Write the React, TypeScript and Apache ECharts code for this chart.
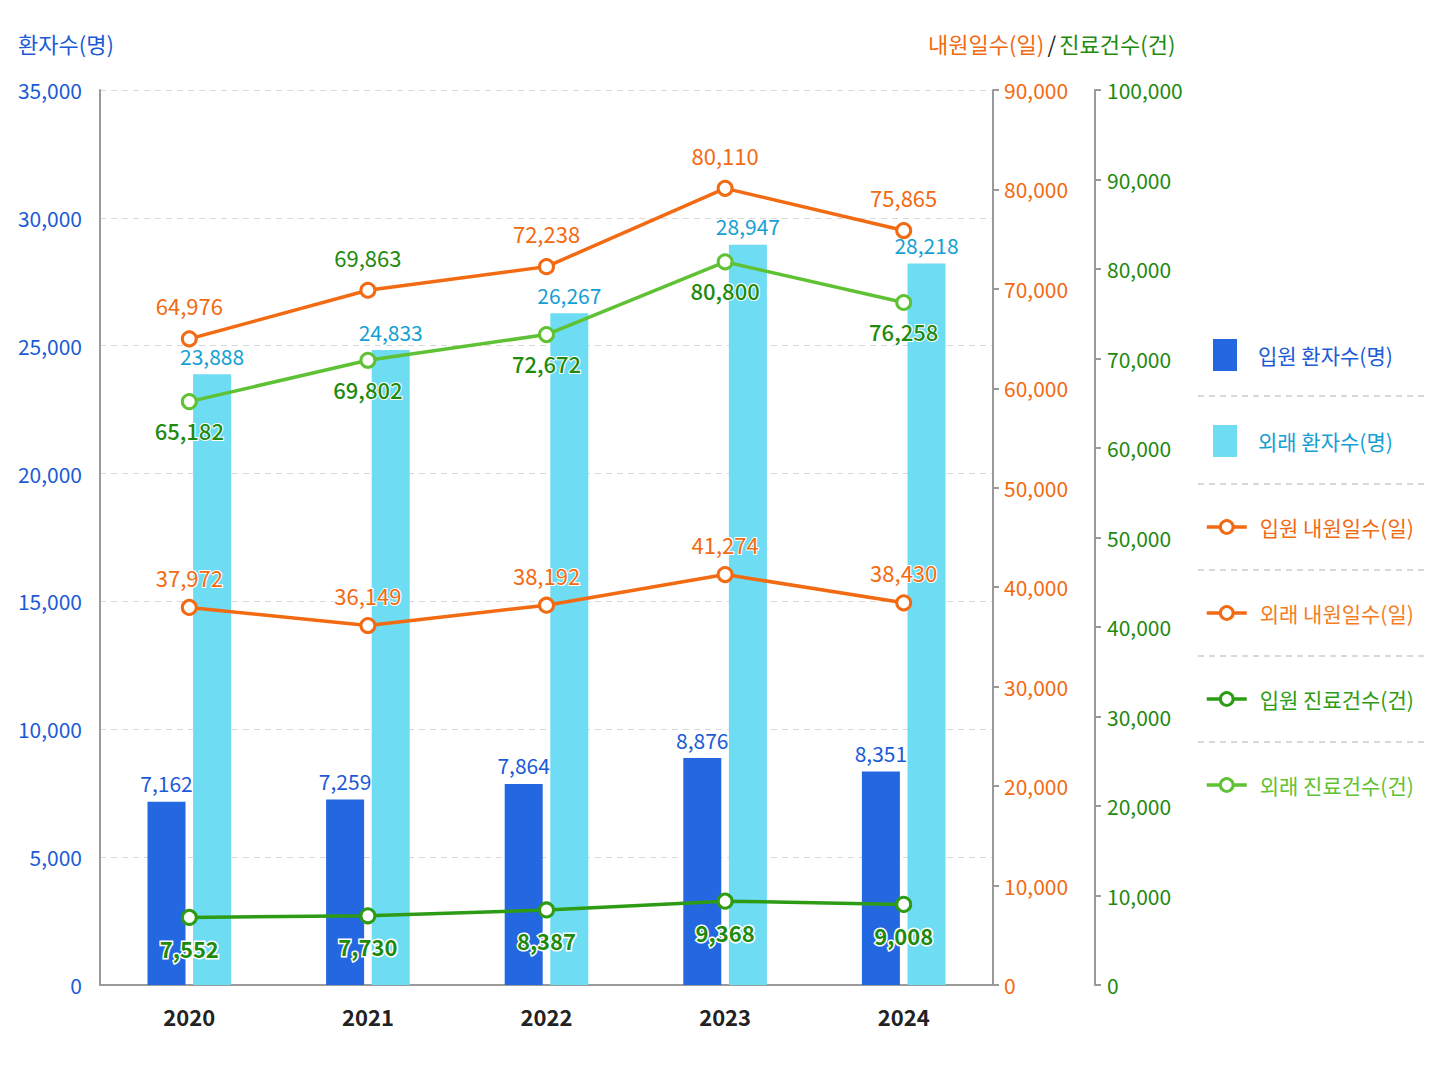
import React, { useEffect, useRef } from 'react';
import * as echarts from 'echarts';

const years = ['2020', '2021', '2022', '2023', '2024'];
const inpatientPatients = [7162, 7259, 7864, 8876, 8351];
const outpatientPatients = [23888, 24833, 26267, 28947, 28218];
const inpatientDays = [37972, 36149, 38192, 41274, 38430];
const outpatientDays = [64976, 69863, 72238, 80110, 75865];
const inpatientCases = [7552, 7730, 8387, 9368, 9008];
const outpatientCases = [65182, 69802, 72672, 80800, 76258];

const patientAxis = { min: 0, max: 35000, interval: 5000 };
const daysAxis = { min: 0, max: 90000, interval: 10000 };
const casesAxis = { min: 0, max: 100000, interval: 10000 };

const FONT = '"Noto Sans CJK KR", "Noto Sans", sans-serif';
const BLUE = '#1c5bd6';
const DARK_BAR = '#2368e0';
const LIGHT_BAR = '#6edcf2';
const CYAN_TEXT = '#159fd2';
const ORANGE = '#f26a12';
const ORANGE2 = '#f57d24';
const GREEN = '#2d9c14';
const GREEN_LIGHT = '#5fc234';
const GREEN_TEXT = '#1e8a0e';
const AXIS_GRAY = '#9a9a9a';

const fmt = (v: number) => Number(v).toLocaleString('en-US');

// label colour overrides for the 외래 내원일수 series (second point is drawn green in the reference)
const outpatientDaysLabelColors = [ORANGE, GREEN_TEXT, ORANGE, ORANGE, ORANGE];

function buildOption() {
  const names = {
    ip: '입원 환자수(명)',
    op: '외래 환자수(명)',
    id: '입원 내원일수(일)',
    od: '외래 내원일수(일)',
    ic: '입원 진료건수(건)',
    oc: '외래 진료건수(건)',
  };
  const lineSeries = (
    name: string,
    data: any[],
    yAxisIndex: number,
    color: string,
    label: any
  ) => ({
    name,
    type: 'line',
    yAxisIndex,
    data,
    z: 5,
    symbol: 'circle',
    symbolSize: 14,
    lineStyle: { color, width: 3.5 },
    itemStyle: { color: '#ffffff', borderColor: color, borderWidth: 3 },
    label: {
      show: true,
      fontFamily: FONT,
      fontSize: 22,
      formatter: (p: any) => fmt(p.value),
      textBorderColor: '#ffffff',
      textBorderWidth: 2,
      ...label,
    },
  });

  const sepYs = [396, 484, 570, 656, 742];

  return {
    animation: false,
    backgroundColor: '#ffffff',
    textStyle: { fontFamily: FONT },
    grid: { left: 100, right: 455, top: 90, bottom: 101, containLabel: false },
    legend: [
      {
        orient: 'vertical',
        left: 1213,
        top: 339,
        padding: 0,
        itemWidth: 24,
        itemHeight: 32,
        itemGap: 54,
        selectedMode: false,
        textStyle: { fontFamily: FONT, fontSize: 21, lineHeight: 32, padding: [0, 0, 0, 16] },
        data: [
          { name: names.ip, icon: 'rect', textStyle: { color: BLUE } },
          { name: names.op, icon: 'rect', textStyle: { color: CYAN_TEXT } },
        ],
      },
      {
        orient: 'vertical',
        left: 1205,
        top: 511,
        padding: 0,
        itemWidth: 40,
        itemHeight: 16,
        itemGap: 54,
        selectedMode: false,
        lineStyle: { width: 3.5 },
        itemStyle: { borderWidth: 3 },
        textStyle: { fontFamily: FONT, fontSize: 21, lineHeight: 32, padding: [0, 0, 0, 8] },
        data: [
          { name: names.id, textStyle: { color: ORANGE } },
          { name: names.od, textStyle: { color: ORANGE2 } },
          { name: names.ic, textStyle: { color: GREEN } },
          { name: names.oc, textStyle: { color: GREEN_LIGHT } },
        ],
      },
    ],
    graphic: [
      {
        type: 'text',
        left: 18,
        top: 32,
        style: { text: '환자수(명)', fill: BLUE, font: `22px ${FONT}` },
      },
      {
        type: 'text',
        left: 928,
        top: 32,
        style: {
          text: '{o|내원일수(일)} {s|/} {g|진료건수(건)}',
          rich: {
            o: { fill: ORANGE, fontSize: 22, fontFamily: FONT },
            s: { fill: '#222222', fontSize: 22, fontFamily: FONT },
            g: { fill: GREEN_TEXT, fontSize: 22, fontFamily: FONT },
          },
        },
      },
      ...sepYs.map((y) => ({
        type: 'line',
        shape: { x1: 1198, y1: y, x2: 1425, y2: y },
        style: { stroke: '#cccccc', lineWidth: 1.5, lineDash: [6, 5] },
      })),
    ],
    xAxis: {
      type: 'category',
      data: years,
      axisLine: { show: true, lineStyle: { color: AXIS_GRAY, width: 2 } },
      axisTick: { show: false },
      axisLabel: {
        color: '#222222',
        fontFamily: FONT,
        fontSize: 22,
        fontWeight: 'bold',
        margin: 20,
      },
    },
    yAxis: [
      {
        type: 'value',
        position: 'left',
        ...patientAxis,
        axisLine: { show: true, lineStyle: { color: AXIS_GRAY, width: 2 } },
        axisTick: { show: false },
        axisLabel: { color: BLUE, fontFamily: FONT, fontSize: 21, margin: 18, formatter: fmt },
        splitLine: { show: true, lineStyle: { color: '#d8d8d8', type: [6, 5], width: 1.2 } },
      },
      {
        type: 'value',
        position: 'right',
        offset: 0,
        ...daysAxis,
        axisLine: { show: true, lineStyle: { color: AXIS_GRAY, width: 2 } },
        axisTick: { show: true, length: 6, lineStyle: { color: AXIS_GRAY, width: 2 } },
        axisLabel: { color: ORANGE, fontFamily: FONT, fontSize: 21, margin: 11, formatter: fmt },
        splitLine: { show: false },
      },
      {
        type: 'value',
        position: 'right',
        offset: 102,
        ...casesAxis,
        axisLine: { show: true, lineStyle: { color: AXIS_GRAY, width: 2 } },
        axisTick: { show: true, length: 6, lineStyle: { color: AXIS_GRAY, width: 2 } },
        axisLabel: { color: GREEN_TEXT, fontFamily: FONT, fontSize: 21, margin: 12, formatter: fmt },
        splitLine: { show: false },
      },
    ],
    series: [
      {
        name: names.ip,
        type: 'bar',
        yAxisIndex: 0,
        data: inpatientPatients,
        barWidth: 38,
        barGap: '20%',
        itemStyle: { color: DARK_BAR },
        label: {
          show: true,
          position: 'top',
          distance: 8,
          color: BLUE,
          fontFamily: FONT,
          fontSize: 21,
          formatter: (p: any) => fmt(p.value),
        },
      },
      {
        name: names.op,
        type: 'bar',
        yAxisIndex: 0,
        data: outpatientPatients,
        barWidth: 38,
        barGap: '20%',
        itemStyle: { color: LIGHT_BAR },
        label: {
          show: true,
          position: 'top',
          distance: 8,
          color: CYAN_TEXT,
          fontFamily: FONT,
          fontSize: 21,
          formatter: (p: any) => fmt(p.value),
        },
      },
      lineSeries(names.id, inpatientDays, 1, ORANGE, {
        position: 'top',
        distance: 11,
        color: ORANGE,
      }),
      lineSeries(
        names.od,
        outpatientDays.map((v, i) => ({
          value: v,
          label: { color: outpatientDaysLabelColors[i] },
        })),
        1,
        ORANGE,
        { position: 'top', distance: 14, color: ORANGE }
      ),
      lineSeries(names.ic, inpatientCases, 2, GREEN, {
        position: 'bottom',
        distance: 11,
        color: GREEN_TEXT,
        fontWeight: 'bold',
        fontSize: 22,
        textBorderWidth: 3,
      }),
      lineSeries(names.oc, outpatientCases, 2, GREEN_LIGHT, {
        position: 'bottom',
        distance: 9,
        color: GREEN_TEXT,
        fontWeight: 500,
      }),
    ],
  };
}

export default function App() {
  const ref = useRef<HTMLDivElement>(null);
  useEffect(() => {
    if (!ref.current) return;
    const chart = echarts.init(ref.current, null, { renderer: 'svg' });
    chart.setOption(buildOption() as any);
    return () => chart.dispose();
  }, []);
  return (
    <div
      ref={ref}
      style={{ position: 'fixed', left: 0, top: 0, width: 1448, height: 1086, background: '#fff' }}
    />
  );
}
